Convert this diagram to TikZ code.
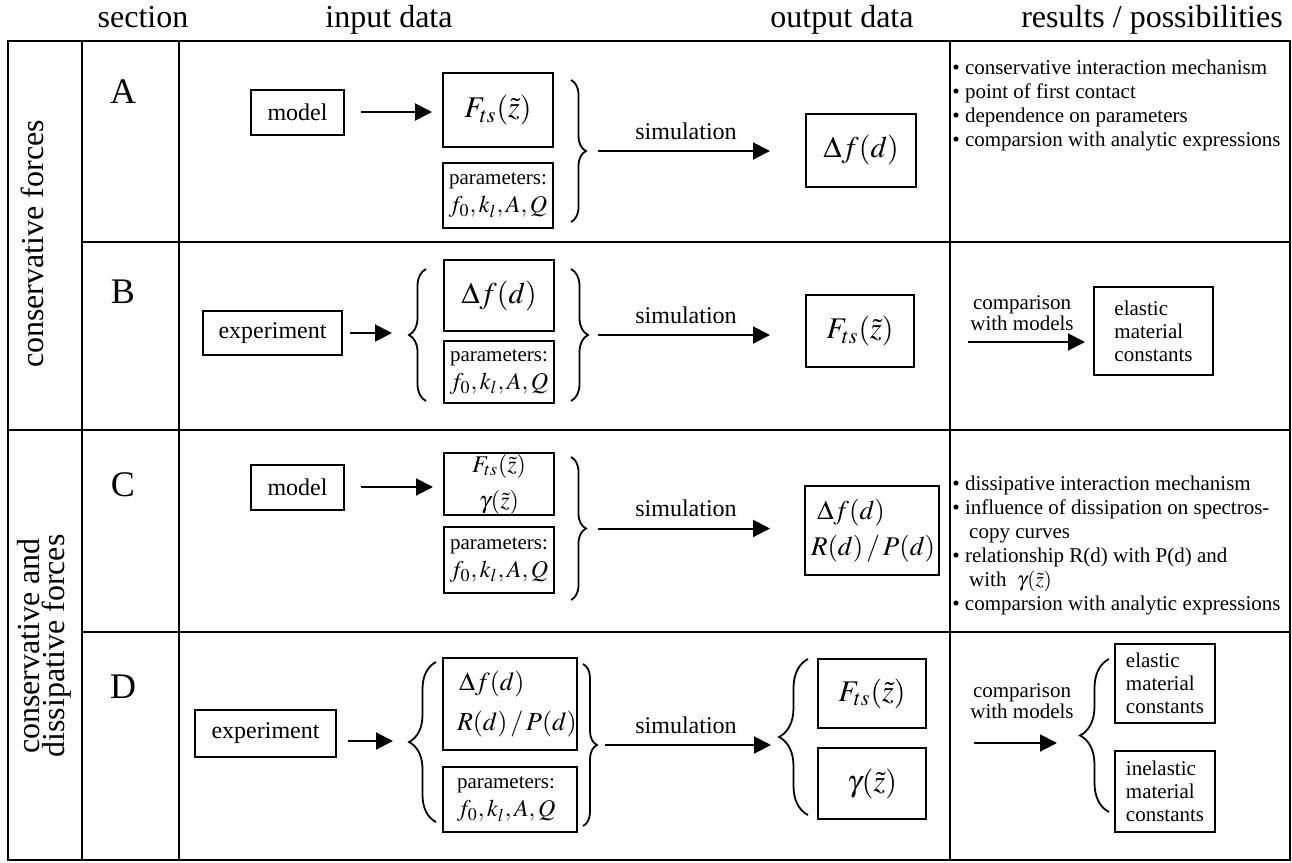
\documentclass[tikz,border=0pt]{standalone}
\usepackage{mathptmx}
\usepackage[no-math]{fontspec}
\setmainfont{Liberation Serif}
\usetikzlibrary{arrows.meta,decorations.pathreplacing,calc}
\newcommand\myHead{\fontsize{16}{19}\selectfont}
\newcommand\myLet{\fontsize{18}{21}\selectfont}
\newcommand\myMid{\fontsize{12}{14}\selectfont}
\newcommand\mySmall{\fontsize{10.5}{12}\selectfont}
\newcommand\myMath{\fontsize{15}{18}\selectfont}
\newcommand\myPar{\fontsize{12}{14}\selectfont}
\begin{document}
\begin{tikzpicture}[x=0.5pt,y=-0.5pt,
  gridline/.style={line width=1.3pt},
  bx/.style={draw, line width=1pt, inner sep=0pt, align=center},
  arr/.style={line width=1pt, -{Triangle[length=8.5pt,width=8.5pt]}},
  brc/.style={line width=0.9pt, decorate, decoration={brace, amplitude=#1}},
  letter/.style={font=\myLet},
  hd/.style={font=\myHead, anchor=base},
  res/.style={anchor=north west, align=left, inner sep=0pt, font=\mySmall},
  lbl/.style={font=\myMid, anchor=base},
  par/.style={bx, font=\fontsize{10.5}{14}\selectfont},
  cmp/.style={align=center, inner sep=0pt, font=\fontsize{10.5}{10.5}\selectfont},
  mat/.style={bx, align=left, font=\fontsize{10.5}{11.5}\selectfont}
]
\useasboundingbox (0,0) rectangle (1292,863);
\fill[white] (0,0) rectangle (1292,863);

% grid
\draw[gridline] (8,41) rectangle (1290,860);
\draw[gridline] (82,41) -- (82,860);
\draw[gridline] (179,41) -- (179,860);
\draw[gridline] (950,41) -- (950,860);
\draw[gridline] (82,242) -- (1290,242);
\draw[gridline] (8,430) -- (1290,430);
\draw[gridline] (82,632) -- (1290,632);

% headers
\node[hd] (hSec) at (143,27) {section};
\node[hd] (hIn) at (389,27) {input data};
\node[hd] (hOut) at (842,27) {output data};
\node[hd] (hRes) at (1152,27) {results / possibilities};

% side labels
\node[rotate=90, anchor=base, inner sep=0pt, font=\myHead] (lab1) at (43,244) {conservative forces};
\node[rotate=90, align=center, inner sep=0pt, font=\fontsize{16}{11}\selectfont] (lab2) at (44,646) {conservative and\\dissipative forces};

% section letters
\node[letter] (secA) at (123,92) {A};
\node[letter] (secB) at (123,292) {B};
\node[letter] (secC) at (123,485) {C};
\node[letter] (secD) at (123,687) {D};

% ---------------- Row A
\node[bx, minimum width=46.5pt, minimum height=22.5pt, font=\myMid] (modA) at (297.5,112) {model};
\node[bx, minimum width=55pt, minimum height=37pt, font=\myMath] (inA) at (498,110) {$F_{ts}(\tilde z)$};
\node[par, minimum width=55pt, minimum height=32.5pt] (parA) at (498,195.5) {parameters:\\ \myPar $f_0, k_l, A,Q$};
\draw[arr, shorten <=8pt, shorten >=5pt] (modA.east) -- (modA.east -| inA.west);
\draw[brc=7.5pt] (571,80) -- (571,222);
\coordinate (tA) at (586,151);
\node[bx, minimum width=55pt, minimum height=36.5pt, font=\myMath] (outA) at (861,150) {$\Delta f(d)$};
\draw[arr, shorten <=6pt, shorten >=17.5pt] (tA) -- (tA -| outA.west);
\node[lbl] (simA) at (686,139) {simulation};
\node[res] (resA) at (952,60) {• conservative interaction mechanism\\• point of first contact\\• dependence on parameters\\• comparsion with analytic expressions};

% ---------------- Row B
\node[bx, minimum width=69.5pt, minimum height=22pt, font=\myMid] (expB) at (272.5,333) {experiment};
\coordinate (tBl) at (409,335);
\draw[brc=8.5pt] (426,401) -- (426,269);
\draw[arr, shorten <=3.5pt, shorten >=8.5pt] (expB.east) -- (expB.east -| tBl);
\node[bx, minimum width=55pt, minimum height=35.5pt, font=\myMath] (inB) at (499,295.5) {$\Delta f(d)$};
\node[par, minimum width=55pt, minimum height=31pt] (parB) at (499,372) {parameters:\\ \myPar $f_0, k_l, A,Q$};
\draw[brc=8.5pt] (571,269) -- (571,401);
\coordinate (tB) at (588,335);
\node[bx, minimum width=54pt, minimum height=36pt, font=\myMath] (outB) at (860,331) {$F_{ts}(\tilde z)$};
\draw[arr, shorten <=5pt, shorten >=17.5pt] (tB) -- (tB -| outB.west);
\node[lbl] (simB) at (686,323) {simulation};
\node[cmp] (cmpB) at (1022,313) {comparison\\with models};
\node[mat, minimum width=59.5pt, minimum height=44pt] (elB) at (1153.5,331) {elastic\\material\\constants};
\coordinate (aB) at (968,342);
\draw[arr, shorten >=4pt] (aB) -- (aB -| elB.west);

% ---------------- Row C
\node[bx, minimum width=46.5pt, minimum height=22.5pt, font=\myMid] (modC) at (297.5,487) {model};
\node[bx, minimum width=55pt, minimum height=31pt, font=\fontsize{12}{18}\selectfont] (inC) at (499,484) {$F_{ts}(\tilde z)$\\$\gamma(\tilde z)$};
\node[par, minimum width=55pt, minimum height=33pt] (parC) at (499,560) {parameters:\\ \myPar $f_0, k_l, A,Q$};
\draw[arr, shorten <=8pt, shorten >=5pt] (modC.east) -- (modC.east -| inC.west);
\draw[brc=7.5pt] (571,457) -- (571,600);
\coordinate (tC) at (586,528.5);
\node[bx, inner xsep=3pt, text width=61pt, minimum height=44.5pt, align=left, font=\fontsize{13.5}{18}\selectfont] (outC) at (872,530.5) {\hspace*{3pt}$\Delta f(d)$\\$R(d)\,/\,P(d)$};
\draw[arr, shorten <=6pt, shorten >=17pt] (tC) -- (tC -| outC.west);
\node[lbl] (simC) at (686,516) {simulation};
\node[res] (resC) at (952,476) {• dissipative interaction mechanism\\• influence of dissipation on spectros-\\\hspace*{0.8em}copy curves\\• relationship R(d) with P(d) and\\\hspace*{0.8em}with\ \ $\gamma(\tilde z)$\\• comparsion with analytic expressions};

% ---------------- Row D
\node[bx, minimum width=70.5pt, minimum height=23.5pt, font=\myMid] (expD) at (265.5,733) {experiment};
\coordinate (tDl) at (409,741);
\draw[brc=13.5pt] (436,822) -- (436,662);
\draw[arr, shorten <=5.5pt, shorten >=8pt] (expD.east |- tDl) -- (tDl);
\node[bx, inner xsep=7pt, text width=53pt, minimum height=46pt, align=left, font=\fontsize{13}{20}\selectfont] (inD) at (510,704) {\hspace*{1pt}$\Delta f(d)$\\$R(d)\,/\,P(d)$};
\node[par, inner xsep=7pt, text width=53pt, minimum height=32.5pt, align=left] (parD) at (510,799.5) {parameters:\\ \myPar $f_0, k_l, A,Q$};
\draw[brc=7pt] (583,664) -- (583,826);
\coordinate (tDr) at (597,745);
\coordinate (tDo) at (779,737);
\draw[brc=14.5pt] (808,815) -- (808,659);
\draw[arr, shorten <=4pt, shorten >=4pt] (tDr) -- (tDr -| tDo);
\node[lbl] (simD) at (686,733) {simulation};
\node[bx, minimum width=54pt, minimum height=34.5pt, font=\myMath] (outD1) at (872,693.5) {$F_{ts}(\tilde z)$};
\node[bx, minimum width=54pt, minimum height=35.5pt, font=\myMath] (outD2) at (872,783.5) {$\gamma(\tilde z)$};
\node[cmp] (cmpD) at (1022,701) {comparison\\with models};
\coordinate (aD) at (974,743);
\coordinate (tD2) at (1080,737);
\draw[arr, shorten >=11.5pt] (aD) -- (aD -| tD2);
\draw[brc=14.5pt] (1109,812) -- (1109,659);
\node[mat, minimum width=50pt, minimum height=39.5pt] (elD) at (1165,683.5) {elastic\\material\\constants};
\node[mat, minimum width=50pt, minimum height=40.5pt] (inelD) at (1165,791.5) {inelastic\\material\\constants};
\end{tikzpicture}
\end{document}
